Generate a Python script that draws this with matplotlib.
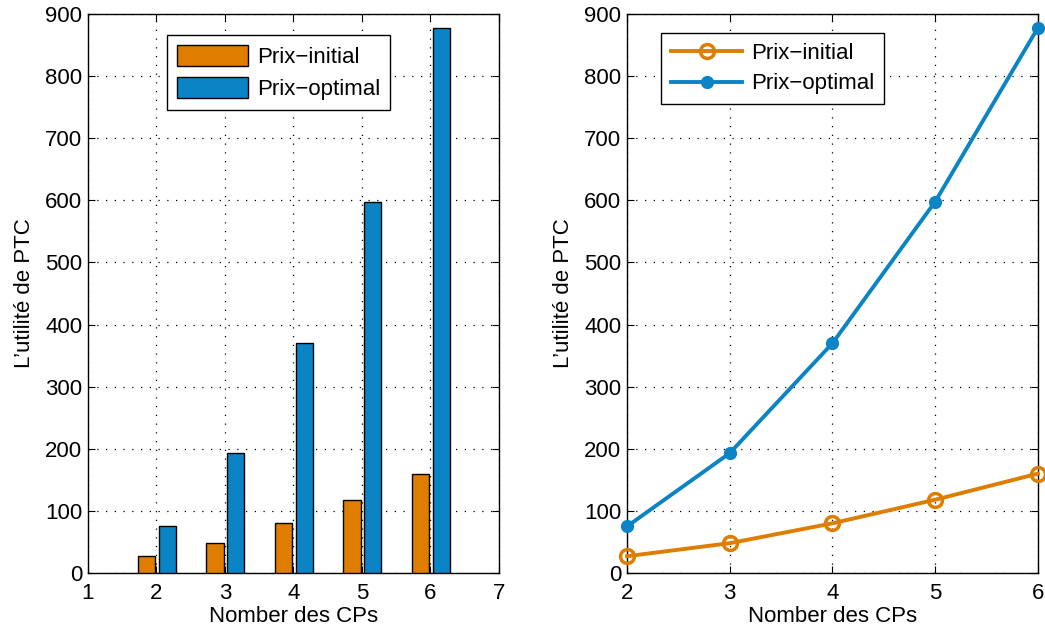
import matplotlib.pyplot as plt
import numpy as np

plt.rcParams['font.family'] = ['Liberation Sans', 'DejaVu Sans']
plt.rcParams['font.size'] = 16

# data
cps = [2, 3, 4, 5, 6]
prix_initial = [27, 48, 80, 118, 160]
prix_optimal = [75, 193, 370, 598, 878]
labels = ['Prix\u2212initial', 'Prix\u2212optimal']

orange = '#DE7D00'
blue = '#0B84C6'

fig = plt.figure(figsize=(10.45, 6.33), dpi=100)
ax1 = fig.add_axes([0.0842, 0.0948, 0.3933, 0.8831])
ax2 = fig.add_axes([0.6000, 0.0948, 0.3933, 0.8831])

#Grouped bars on the left
x = np.array(cps)
w = 0.25
ax1.bar(x - 0.145, prix_initial, w, color=orange, edgecolor='black', linewidth=1, label=labels[0], zorder=3)
ax1.bar(x + 0.155, prix_optimal, w, color=blue, edgecolor='black', linewidth=1, label=labels[1], zorder=3)
ax1.set_xlim(1, 7)
ax1.set_xticks(range(1, 8))

#Lines with markers on the right
ax2.plot(cps, prix_initial, color=orange, linewidth=2.8, marker='o', markersize=10,
         markerfacecolor='none', markeredgewidth=2.5, label=labels[0], clip_on=False, zorder=3)
ax2.plot(cps, prix_optimal, color=blue, linewidth=2.8, marker='o', markersize=8.5,
         markerfacecolor=blue, label=labels[1], clip_on=False, zorder=3)
ax2.set_xlim(2, 6)
ax2.set_xticks(cps)

for ax in (ax1, ax2):
    ax.set_ylim(0, 900)
    ax.set_yticks(range(0, 901, 100))
    ax.grid(True, linestyle=(0, (1, 6)), color='black', linewidth=0.9)
    ax.set_axisbelow(True)
    ax.tick_params(direction='in', top=True, right=True, length=5, labelsize=16)
    ax.tick_params(axis='x', pad=7)
    ax.tick_params(axis='y', pad=4)
    for s in ax.spines.values():
        s.set_linewidth(1)
    ax.set_xlabel('Nomber des CPs', fontsize=16, labelpad=2)
    ax.set_ylabel('L\u2019utilit\u00e9 de PTC', fontsize=16, labelpad=7)

leg1 = ax1.legend(loc='upper left', bbox_to_anchor=(0.192, 0.962), fancybox=False, edgecolor='black',
                  framealpha=1, handlelength=3.2, handleheight=1.05, borderpad=0.45, labelspacing=0.4,
                  handletextpad=0.4, borderaxespad=0, fontsize=16)
leg2 = ax2.legend(loc='upper left', bbox_to_anchor=(0.083, 0.966), fancybox=False, edgecolor='black',
                  framealpha=1, handlelength=3.2, borderpad=0.45, labelspacing=0.42,
                  handletextpad=0.4, borderaxespad=0, fontsize=16)
for leg in (leg1, leg2):
    leg.get_frame().set_linewidth(1)

fig.savefig('out.png', dpi=100)
